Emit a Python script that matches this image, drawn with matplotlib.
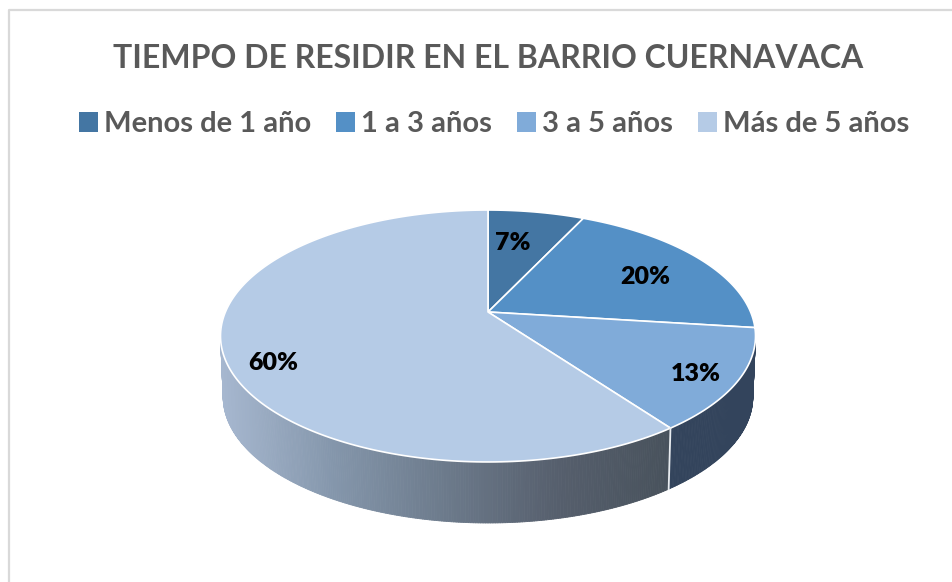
import numpy as np
import matplotlib
matplotlib.use('Agg')
import matplotlib.pyplot as plt
from matplotlib.collections import PolyCollection
from matplotlib.colors import LinearSegmentedColormap
from matplotlib.patches import Patch

categories = ['Menos de 1 año', '1 a 3 años', '3 a 5 años', 'Más de 5 años']
values = [7, 20, 13, 60]
colors = ['#4476a3', '#5490c6', '#80abd9', '#b5cbe6']

# pie geometry in pixels, the tilted disc is a projected circle
cx, cy = 488, 312
a, b, k = 262.6, 121.4, 0.1905
depth = 61
shrink = 0.99


def project(theta):
    # theta in radians, clockwise from 12 o'clock
    x, y = np.sin(theta), np.cos(theta)
    d = 1 + k * y
    return cx + a * x / d, cy - b * y / d


fig = plt.figure(figsize=(9.53, 5.82), dpi=100)
ax = fig.add_axes([0, 0, 1, 1])
ax.set_xlim(0, 953)
ax.set_ylim(582, 0)
ax.axis('off')

# chart border, only top and left show in the crop
ax.plot([953, 9, 9], [10, 10, 582], color='#d9d9d9', lw=1.6)

edges = np.cumsum([0] + values) / sum(values) * 2 * np.pi

# side wall, between the two silhouette points of the disc
start = np.pi - np.arccos(k)
stop = np.pi + np.arccos(k)
wall = np.linspace(start, stop, 361)
xt, yt = project(wall)
xb = cx + (xt - cx) * shrink
yb = yt + depth

grad = LinearSegmentedColormap.from_list('wall', ['#a6b7cf', '#8496ab', '#6c7a8b', '#565f6d', '#48525c'])
polys, cols = [], []
for i in range(len(wall) - 1):
    polys.append([(xt[i], yt[i]), (xt[i + 1], yt[i + 1]), (xb[i + 1], yb[i + 1]), (xb[i], yb[i])])
    mid = (wall[i] + wall[i + 1]) / 2
    if mid < edges[3]:
        cols.append('#33445c')
    else:
        cols.append(grad(((xt[i] + xt[i + 1]) / 2 - 221) / 449))
ax.add_collection(PolyCollection(polys, facecolors=cols, edgecolors=cols, linewidths=0.6))

# seam on the wall where the 13% slice ends
sx, sy = project(edges[3])
ax.plot([sx, cx + (sx - cx) * shrink], [sy, sy + depth], color='#e8ecf0', lw=1.3)

# top face
for i in range(len(values)):
    th = np.linspace(edges[i], edges[i + 1], 200)
    px, py = project(th)
    ax.fill(np.r_[cx, px], np.r_[cy, py], facecolor=colors[i], edgecolor='white', lw=1.2, joinstyle='round')

label_x = [513, 645, 696, 273]
label_y = [243, 277, 374, 363]
for v, lx, ly in zip(values, label_x, label_y):
    ax.text(lx, ly, f'{v}%', ha='center', va='center', fontsize=18, fontweight='heavy',
            family='Lato', color='black')

ax.text(488, 58, 'TIEMPO DE RESIDIR EN EL BARRIO CUERNAVACA', ha='center', va='center',
        fontsize=23, fontweight='bold', family='Lato', color='#595959')

handles = [Patch(facecolor=c, edgecolor='none') for c in colors]
leg = ax.legend(handles, categories, ncol=4, loc='center', bbox_to_anchor=(494 / 953, 1 - 124 / 582),
                frameon=False, handlelength=0.65, handleheight=0.7, handletextpad=0.2, columnspacing=0.87,
                prop={'family': 'Lato', 'weight': 'bold', 'size': 21})
for t in leg.get_texts():
    t.set_color('#595959')

fig.savefig('out.png', dpi=100)
